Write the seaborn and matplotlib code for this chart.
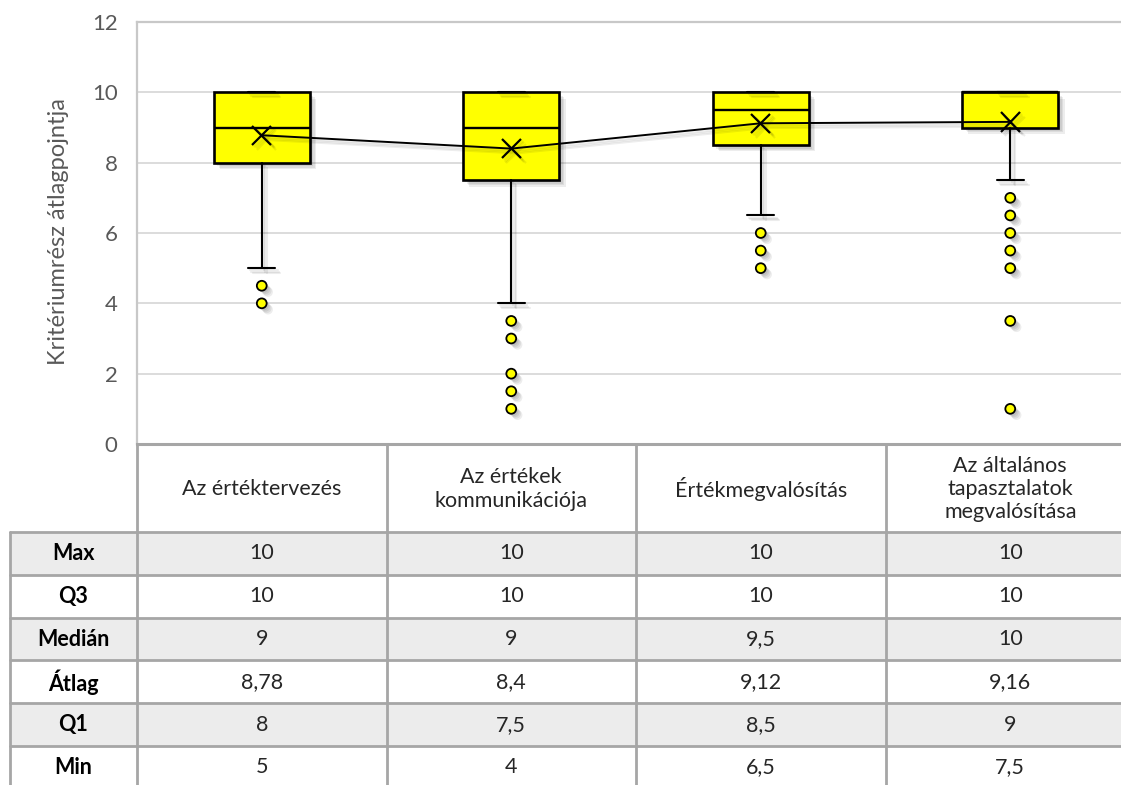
import numpy as np
import pandas as pd
import matplotlib
matplotlib.use("Agg")
import matplotlib.pyplot as plt
import matplotlib.patheffects as pe
from matplotlib.patches import Rectangle
import seaborn as sns

# ---- data -------------------------------------------------------------
categories = [
    "Az értéktervezés",
    "Az értékek\nkommunikációja",
    "Értékmegvalósítás",
    "Az általános\ntapasztalatok\nmegvalósítása",
]
max_vals = [10, 10, 10, 10]
q3_vals = [10, 10, 10, 10]
median_vals = [9, 9, 9.5, 10]
mean_vals = [8.78, 8.4, 9.12, 9.16]
q1_vals = [8, 7.5, 8.5, 9]
min_vals = [5, 4, 6.5, 7.5]
outliers = [
    [4.5, 4],
    [3.5, 3, 2, 1.5, 1],
    [6, 5.5, 5],
    [7, 6.5, 6, 5.5, 5, 3.5, 1],
]
row_labels = ["Max", "Q3", "Medián", "Átlag", "Q1", "Min"]
yticks = [0, 2, 4, 6, 8, 10, 12]
y_title = "Kritériumrész átlagpojntja"

# ---- style ------------------------------------------------------------
sns.set_style("white")
plt.rcParams["font.family"] = ["Lato", "DejaVu Sans"]

W, H = 1121, 785
fig = plt.figure(figsize=(W / 100, H / 100), dpi=100)
fig.patch.set_facecolor("white")

# plot area in pixels (the right edge runs past the canvas)
left, right, top, bottom = 137, 1135, 22, 444
ax = fig.add_axes([left / W, 1 - bottom / H, (right - left) / W, (bottom - top) / H])


def patch_shadow():
    return [pe.SimplePatchShadow(offset=(d, -d), shadow_rgbFace="black", alpha=0.07)
            for d in (1.5, 2.5, 3.5, 4.5)] + [pe.Normal()]


def line_shadow():
    return [pe.SimpleLineShadow(offset=(d, -d), shadow_color="black", alpha=0.07)
            for d in (1.5, 2.5, 3.5)] + [pe.Normal()]


# ---- boxes from the summary statistics ------------------------------------
positions = np.arange(len(categories))
stats = [
    dict(med=md, q1=lo_q, q3=hi_q, whislo=mn, whishi=mx, fliers=[], label="")
    for md, lo_q, hi_q, mn, mx in zip(median_vals, q1_vals, q3_vals, min_vals, max_vals)
]
bp = ax.bxp(
    stats,
    positions=positions,
    widths=0.385,
    capwidths=0.11,
    patch_artist=True,
    showfliers=False,
    manage_ticks=False,
    boxprops=dict(facecolor="#ffff00", edgecolor="black", linewidth=1.9),
    medianprops=dict(color="black", linewidth=1.7),
    whiskerprops=dict(color="black", linewidth=1.5),
    capprops=dict(color="black", linewidth=1.5),
    zorder=3,
)
for box in bp["boxes"]:
    box.set_path_effects(patch_shadow())
for ln in bp["whiskers"] + bp["caps"]:
    ln.set_path_effects(line_shadow())

# ---- outliers ----------------------------------------------------------
flier_df = pd.DataFrame(
    [(i, v) for i, vals in enumerate(outliers) for v in vals], columns=["pos", "value"]
)
sns.scatterplot(
    data=flier_df, x="pos", y="value", ax=ax, marker="o", s=50,
    color="#ffff00", edgecolor="black", linewidth=1.3, zorder=4, legend=False,
)
ax.collections[-1].set_path_effects(patch_shadow())

# ---- mean line ---------------------------------------------------------
sns.lineplot(
    x=positions, y=mean_vals, ax=ax, color="black", linewidth=1.4,
    marker="x", markersize=14, markeredgewidth=1.6, markeredgecolor="black",
    zorder=5, legend=False,
)
ax.lines[-1].set_path_effects(line_shadow())

# ---- axes cosmetics ----------------------------------------------------
ax.set_xlim(-0.5, len(categories) - 0.5)
ax.set_ylim(0, 12)
ax.set_yticks(yticks)
ax.set_xticks([])
ax.set_xlabel("")
ax.set_ylabel("")
ax.set_axisbelow(True)
ax.yaxis.grid(True, color="#d9d9d9", linewidth=1.3)
ax.tick_params(axis="y", length=0, pad=14, labelsize=16, labelcolor="#595959")
for side in ("left", "top"):
    ax.spines[side].set_color("#c8c8c8")
    ax.spines[side].set_linewidth(1.6)
ax.spines["right"].set_visible(False)
ax.spines["bottom"].set_color("#a6a6a6")
ax.spines["bottom"].set_linewidth(2.2)
fig.text(59 / W, 1 - 232 / H, y_title, rotation=90, ha="center", va="center",
         fontsize=17, color="#595959")

# ---- data table below the plot -----------------------------------------
tab = fig.add_axes([0, 0, 1, 1], zorder=-1)
tab.set_xlim(0, W)
tab.set_ylim(H, 0)
tab.axis("off")

grid_c = "#a6a6a6"
shade_c = "#ececec"
label_left = 10
col_edges = np.linspace(left, right, len(categories) + 1)
head_top, head_bot = bottom, 532
row_h = 42.8
row_edges = head_bot + row_h * np.arange(len(row_labels) + 1)
table_rows = [max_vals, q3_vals, median_vals, mean_vals, q1_vals, min_vals]
fs = 15.5


def fmt(v):
    return f"{v:g}".replace(".", ",")


for r, (lab, vals) in enumerate(zip(row_labels, table_rows)):
    y0, y1 = row_edges[r], row_edges[r + 1]
    if r % 2 == 0:
        tab.add_patch(Rectangle((label_left, y0), W - label_left, y1 - y0,
                                facecolor=shade_c, edgecolor="none", zorder=0))
    yc = (y0 + y1) / 2
    tab.text((label_left + left) / 2, yc, lab, ha="center", va="center",
             fontsize=fs, fontweight="bold", color="black")
    for c, v in enumerate(vals):
        tab.text((col_edges[c] + col_edges[c + 1]) / 2, yc, fmt(v), ha="center",
                 va="center", fontsize=fs, color="#262626")

for c, name in enumerate(categories):
    tab.text((col_edges[c] + col_edges[c + 1]) / 2, (head_top + head_bot) / 2 + 1, name,
             ha="center", va="center", fontsize=fs, color="#262626", linespacing=1.2)

lw = 2.0
for y in row_edges:
    tab.plot([label_left, W], [y, y], color=grid_c, lw=lw, zorder=1)
tab.plot([label_left, label_left], [head_bot, H], color=grid_c, lw=lw, zorder=1)
for x in col_edges:
    tab.plot([x, x], [head_top, H], color=grid_c, lw=lw, zorder=1)

fig.savefig("out.png", dpi=100, facecolor="white")
